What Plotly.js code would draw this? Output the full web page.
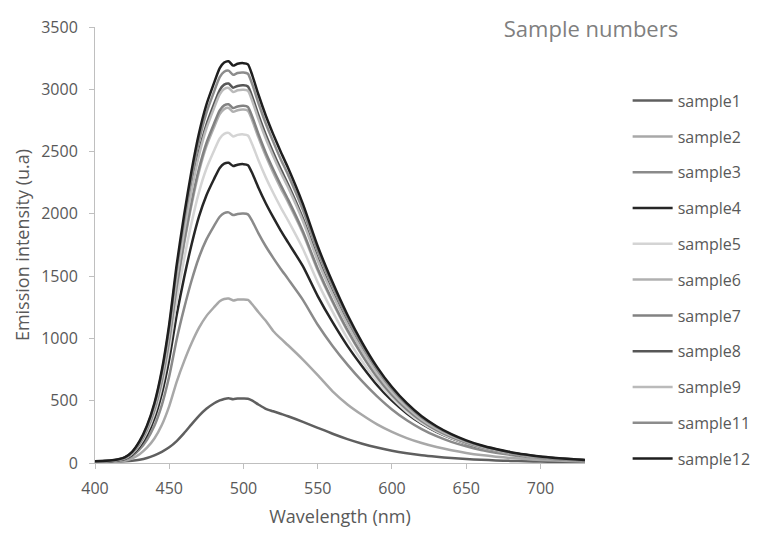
<!DOCTYPE html>
<html>
<head>
<meta charset="utf-8">
<script src="https://cdn.plot.ly/plotly-3.0.1.min.js"></script>
<style>html,body{margin:0;padding:0;background:#fff;}#chart{width:757px;height:534px;}</style>
</head>
<body>
<div id="chart"></div>
<script>
// Wavelength (nm)
const wavelength = [400,405,410,415,420,425,430,435,440,445,450,455,460,465,470,475,480,484,487,490,493,496,500,503,506,510,515,520,525,530,540,550,560,570,580,590,600,610,620,630,640,650,660,670,680,690,700,710,720,730];

const sample1  = [10,10,11,12,14,18,26,40,62,90,126,176,240,310,378,435,478,502,514,520,512,518,518,516,500,470,435,415,395,375,330,282,235,192,155,124,98,78,62,50,40,32,26,21,17,14,12,10,9,8];
const sample2  = [7,7,8,12,18,37,71,123,197,305,457,652,816,961,1084,1179,1248,1298,1316,1320,1305,1312,1313,1309,1272,1212,1142,1060,1000,945,830,705,575,470,385,310,250,200,160,128,102,81,64,51,40,32,25,20,16,12];
const sample3  = [9,10,12,17,28,56,109,187,299,465,696,992,1241,1463,1650,1793,1900,1977,2006,2012,1990,1999,2002,1996,1940,1846,1740,1647,1560,1478,1310,1110,940,790,655,535,430,343,272,215,170,134,105,83,65,51,40,31,24,19];
const sample4  = [11,12,15,21,34,67,131,224,359,557,833,1188,1487,1752,1977,2148,2276,2369,2403,2410,2384,2395,2399,2391,2324,2212,2085,1973,1868,1771,1580,1340,1130,940,775,625,500,398,315,250,198,157,124,98,77,60,47,37,29,22];
const sample5  = [12,13,16,23,37,74,144,247,394,612,916,1307,1635,1927,2173,2362,2502,2605,2642,2650,2621,2634,2638,2629,2555,2432,2293,2169,2054,1947,1720,1450,1215,1000,815,655,520,410,322,254,200,158,124,98,76,59,46,36,28,21];
const sample6  = [13,14,18,25,40,80,155,265,424,658,985,1405,1759,2072,2337,2541,2691,2801,2841,2850,2819,2832,2837,2828,2748,2616,2466,2333,2209,2094,1845,1545,1290,1060,862,688,546,430,337,265,209,164,128,101,79,61,47,37,29,22];
const sample7  = [13,14,18,25,40,80,156,268,429,665,996,1420,1777,2094,2362,2567,2719,2831,2871,2880,2849,2862,2867,2858,2777,2643,2491,2358,2233,2116,1860,1560,1300,1068,866,691,547,431,337,265,209,164,128,101,78,61,47,37,29,21];
const sample8  = [14,15,19,26,43,85,165,283,453,704,1053,1502,1880,2215,2498,2715,2876,2994,3037,3046,3013,3027,3032,3022,2937,2796,2635,2493,2361,2238,1965,1643,1370,1124,911,727,576,453,354,279,219,172,134,106,82,64,49,39,30,23];
const sample9  = [14,15,19,26,42,84,163,280,448,696,1041,1484,1858,2189,2469,2684,2843,2960,3002,3011,2978,2992,2997,2988,2903,2763,2605,2465,2334,2213,1942,1624,1354,1111,901,719,569,448,350,275,217,170,133,105,81,63,49,38,30,22];
const sample11 = [15,16,19,27,44,88,170,293,469,728,1089,1553,1944,2291,2584,2809,2975,3097,3141,3150,3116,3131,3135,3125,3037,2892,2725,2580,2441,2315,2032,1700,1418,1162,942,753,595,469,365,287,227,176,139,110,85,66,50,41,32,24];
const sample12 = [15,16,20,28,45,90,175,300,480,745,1115,1590,1990,2345,2645,2875,3045,3170,3215,3225,3190,3205,3210,3200,3110,2960,2790,2640,2500,2370,2080,1740,1450,1190,965,770,610,480,375,295,232,182,142,112,87,68,52,41,32,24];

const seriesNames = ["sample1","sample2","sample3","sample4","sample5","sample6","sample7","sample8","sample9","sample11","sample12"];
const seriesValues = [sample1,sample2,sample3,sample4,sample5,sample6,sample7,sample8,sample9,sample11,sample12];
const seriesColors = ["#5f5f5f","#a8a8a8","#8a8a8a","#262626","#d4d4d4","#b0b0b0","#828282","#575757","#bababa","#8c8c8c","#1e1e1e"];

const xTicks = [400,450,500,550,600,650,700];
const yTicks = [0,500,1000,1500,2000,2500,3000,3500];

const traces = seriesNames.map((n, i) => ({
  type: "scatter",
  mode: "lines",
  name: n,
  legendgroup: n,
  x: wavelength,
  y: seriesValues[i],
  line: {color: seriesColors[i], width: 2.5, shape: "spline", smoothing: 0.6}
}));

const font = "'Open Sans', 'Noto Sans', sans-serif";
const layout = {
  width: 757, height: 534,
  margin: {l: 95, r: 172, t: 27, b: 71, autoexpand: false},
  paper_bgcolor: "#fff", plot_bgcolor: "#fff",
  font: {family: font, color: "#595959", size: 16},
  title: {text: "Sample numbers", font: {family: font, size: 22, color: "#7f7f7f"},
          x: 591/757, xref: "container", xanchor: "center", y: 1 - 29/534, yref: "container", yanchor: "middle"},
  xaxis: {
    range: [400, 730], tickvals: xTicks, ticktext: xTicks.map(String),
    showgrid: false, zeroline: false, showline: true, linecolor: "#bfbfbf", linewidth: 1,
    ticks: "outside", ticklen: 5, tickcolor: "#bfbfbf", ticklabelstandoff: 6,
    tickfont: {family: font, size: 16, color: "#595959"},
    title: {text: "Wavelength (nm)", font: {family: font, size: 18, color: "#595959"}, standoff: 12}
  },
  yaxis: {
    range: [0, 3500], tickvals: yTicks, ticktext: yTicks.map(String),
    showgrid: false, zeroline: false, showline: true, linecolor: "#bfbfbf", linewidth: 1,
    ticks: "outside", ticklen: 5, tickcolor: "#bfbfbf", ticklabelstandoff: 8,
    tickfont: {family: font, size: 16, color: "#595959"},
    title: {text: "Emission intensity (u.a)", font: {family: font, size: 18, color: "#595959"}, standoff: 6}
  },
  showlegend: true,
  legend: {
    x: 1.087, xanchor: "left", y: 0.87, yanchor: "top",
    font: {family: font, size: 16, color: "#595959"},
    tracegroupgap: 12, traceorder: "grouped", bgcolor: "rgba(0,0,0,0)", itemwidth: 40
  }
};

Plotly.newPlot("chart", traces, layout, {staticPlot: true, displayModeBar: false});
</script>
</body>
</html>
